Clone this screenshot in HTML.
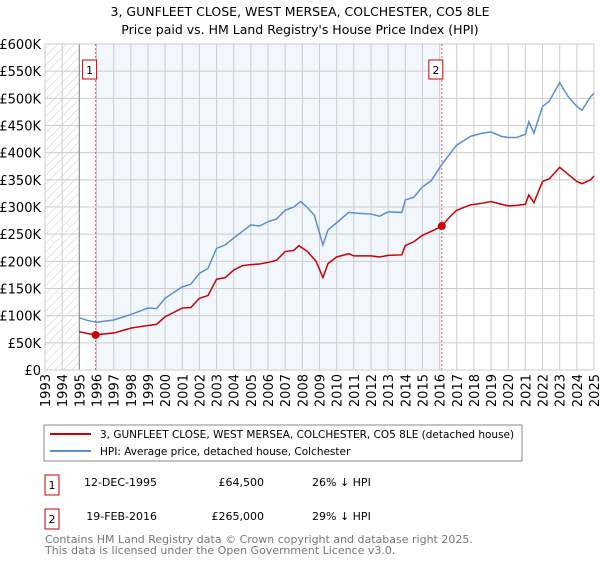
<!DOCTYPE html>
<html><head><meta charset="utf-8"><style>
body{margin:0;background:#fff;font-family:"DejaVu Sans","Liberation Sans",sans-serif;}
svg text{font-family:"DejaVu Sans","Liberation Sans",sans-serif;}
</style></head><body>
<svg id="chart" width="600" height="560" xmlns="http://www.w3.org/2000/svg">
<defs><pattern id="hatch" width="6" height="6" patternUnits="userSpaceOnUse" patternTransform="rotate(45)"><line x1="0" y1="0" x2="0" y2="6" stroke="#ccc" stroke-width="1"/></pattern></defs>
<text x="300" y="16" text-anchor="middle" font-size="12.5">3, GUNFLEET CLOSE, WEST MERSEA, COLCHESTER, CO5 8LE</text>
<text x="300" y="34" text-anchor="middle" font-size="12.5">Price paid vs. HM Land Registry's House Price Index (HPI)</text>
<g id="plot"></g>
<rect x="44" y="425" width="478" height="36" fill="#fff" stroke="#888"/>
<line x1="50" y1="434" x2="91" y2="434" stroke="#cc0000" stroke-width="2"/>
<text x="100" y="438" font-size="10.5">3, GUNFLEET CLOSE, WEST MERSEA, COLCHESTER, CO5 8LE (detached house)</text>
<line x1="50" y1="451" x2="91" y2="451" stroke="#5b8fd4" stroke-width="2"/>
<text x="100" y="455" font-size="10.5">HPI: Average price, detached house, Colchester</text>
<g font-size="11">
<rect x="45" y="475" width="14" height="20" fill="#fff" stroke="#cc0000"/>
<text x="52" y="489" text-anchor="middle">1</text>
<text x="157" y="486" text-anchor="end">12-DEC-1995</text>
<text x="264" y="486" text-anchor="end">£64,500</text>
<text x="312" y="486">26% ↓ HPI</text>
<rect x="45" y="509" width="14" height="20" fill="#fff" stroke="#cc0000"/>
<text x="52" y="523" text-anchor="middle">2</text>
<text x="157" y="520" text-anchor="end">19-FEB-2016</text>
<text x="264" y="520" text-anchor="end">£265,000</text>
<text x="312" y="520">29% ↓ HPI</text>
</g>
<text x="45" y="543" font-size="11" fill="#777">Contains HM Land Registry data © Crown copyright and database right 2025.</text>
<text x="45" y="554" font-size="11" fill="#777">This data is licensed under the Open Government Licence v3.0.</text>
</svg>
<script>
const hpiYears=[1995,1995.5,1996,1997,1998,1999,1999.5,2000,2001,2001.5,2002,2002.5,2003,2003.5,2004,2004.5,2005,2005.5,2006,2006.5,2007,2007.5,2007.9,2008.2,2008.7,2009.2,2009.5,2010,2010.7,2011,2012,2012.5,2013,2013.8,2014,2014.5,2015,2015.5,2016.1,2016.6,2017,2017.8,2018.5,2019,2019.6,2020,2020.5,2021,2021.2,2021.5,2022,2022.4,2023,2023.5,2024,2024.3,2024.8,2025];
const hpiValues=[96,91,88,92,102,114,113,132,153,158,178,187,224,230,243,255,267,265,273,278,294,300,310,302,285,230,258,271,290,289,287,283,291,290,313,318,337,348,377,398,414,430,436,438,430,428,428,434,457,436,485,495,529,503,485,478,503,509];
const ppYears=[1995,1995.5,1996,1997,1998,1999,1999.5,2000,2001,2001.5,2002,2002.5,2003,2003.5,2004,2004.5,2005,2005.5,2006,2006.5,2007,2007.5,2007.8,2008.3,2008.8,2009.2,2009.5,2010,2010.7,2011,2012,2012.5,2013,2013.8,2014,2014.5,2015,2015.5,2016.1,2016.6,2017,2017.8,2018.5,2019,2019.6,2020,2020.5,2021,2021.2,2021.5,2022,2022.4,2023,2023.5,2024,2024.3,2024.8,2025];
const ppValues=[70.5,67,65,68,77,82,84,98,114,115,132,137,167,170,184,192,194,195,198,202,218,220,229,218,200,170,196,208,214,210,210,208,211,212,229,236,248,255,264,282,294,304,307,310,305,302,303,305,322,308,347,352,373,360,347,343,350,357];
const yTicks=[0,50,100,150,200,250,300,350,400,450,500,550,600];
const yTickLabels=["£0","£50K","£100K","£150K","£200K","£250K","£300K","£350K","£400K","£450K","£500K","£550K","£600K"];
const xTicks=[1993,1994,1995,1996,1997,1998,1999,2000,2001,2002,2003,2004,2005,2006,2007,2008,2009,2010,2011,2012,2013,2014,2015,2016,2017,2018,2019,2020,2021,2022,2023,2024,2025];
const saleYears=[1995.95,2016.13];
const saleValues=[64.5,265];
const saleLabels=["1","2"];
const X0=45,X1=594,Y0=370,Y1=44;
const xs=y=>X0+(y-1993)/32*(X1-X0);
const ys=v=>Y0-v/600*(Y0-Y1);
const NS="http://www.w3.org/2000/svg";
const g=document.getElementById('plot');
function mk(t,a,p){const e=document.createElementNS(NS,t);for(const k in a)e.setAttribute(k,a[k]);(p||g).appendChild(e);return e;}
let e;
e=mk('rect',{x:xs(1993),y:Y1,width:xs(1995)-xs(1993),height:Y0-Y1,fill:'url(#hatch)'});


e=mk('rect',{x:xs(saleYears[0]),y:Y1,width:xs(saleYears[1])-xs(saleYears[0]),height:Y0-Y1,fill:'#f2f6fd'});


yTicks.forEach((v,i)=>{
 e=mk('line',{x1:X0,x2:X1,y1:ys(v),y2:ys(v),stroke:'#ccc','stroke-width':1});
 
 
 e=mk('text',{x:41,y:ys(v)+5,'text-anchor':'end','font-size':13});
 e.textContent=yTickLabels[i];
 
 
});
xTicks.forEach(y=>{
 e=mk('line',{x1:xs(y),x2:xs(y),y1:Y1,y2:Y0,stroke:'#ccc','stroke-width':1});
 
 
 e=mk('text',{x:0,y:0,'text-anchor':'end','font-size':13,transform:`translate(${xs(y)+5},374) rotate(-90)`});
 e.textContent=y;
 
 
});
e=mk('line',{x1:xs(1995),x2:xs(1995),y1:Y1,y2:Y0,stroke:'#888'});


e=mk('rect',{x:X0,y:Y1,width:X1-X0,height:Y0-Y1,fill:'none',stroke:'#ccc'});


saleYears.forEach((y,i)=>{
 e=mk('line',{x1:xs(y),x2:xs(y),y1:Y1,y2:Y0,stroke:'#e06060','stroke-dasharray':'2,2'});
 
 
 e=mk('rect',{x:xs(y)-13,y:60,width:14,height:19,fill:'#fff',stroke:'#cc0000'});
 
 
 e=mk('text',{x:xs(y)-6,y:74,'text-anchor':'middle','font-size':11});
 e.textContent=saleLabels[i];
 
 
});
e=mk('polyline',{points:hpiYears.map((y,i)=>xs(y)+','+ys(hpiValues[i])).join(' '),fill:'none',stroke:'#5b8fd4','stroke-width':1.5});


e=mk('polyline',{points:ppYears.map((y,i)=>xs(y)+','+ys(ppValues[i])).join(' '),fill:'none',stroke:'#cc0000','stroke-width':1.5});


saleYears.forEach((y,i)=>{
 e=mk('circle',{cx:xs(y),cy:ys(saleValues[i]),r:4,fill:'#cc0000'});
 
 
});
</script>
</body></html>
